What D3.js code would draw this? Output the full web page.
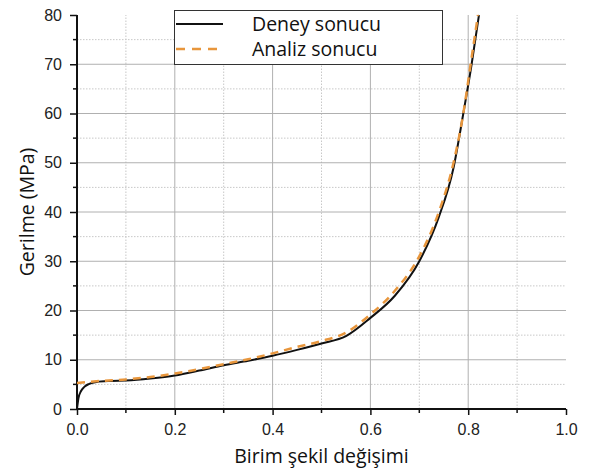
<!DOCTYPE html>
<html>
<head>
<meta charset="utf-8">
<script src="https://cdn.jsdelivr.net/npm/d3@7"></script>
<style>
  body { margin: 0; background: #fff; }
  .tick text { font-family: "Liberation Sans", Arial, sans-serif; font-size: 16px; fill: #222; }
  .title { font-family: "Open Sans", sans-serif; font-size: 19.5px; fill: #111; }
</style>
</head>
<body>
<div id="chart"></div>
<script>
// Deney (experiment) curve
const deneyStrain = [0, 0.003, 0.008, 0.015, 0.025, 0.04, 0.07, 0.1, 0.15, 0.2, 0.25, 0.3, 0.35, 0.4, 0.45, 0.5, 0.55, 0.6, 0.65, 0.7, 0.74, 0.77, 0.79, 0.807, 0.822];
const deneyStress = [0, 2.2, 3.6, 4.5, 5.1, 5.5, 5.7, 5.8, 6.2, 6.8, 7.8, 8.9, 9.8, 10.8, 12.0, 13.3, 14.8, 18.5, 23, 30, 39, 49, 60, 70, 80];

// Analiz (analysis) curve
const analizStrain = [0, 0.05, 0.1, 0.15, 0.2, 0.25, 0.3, 0.35, 0.4, 0.45, 0.5, 0.55, 0.6, 0.65, 0.7, 0.74, 0.77, 0.79, 0.805, 0.82];
const analizStress = [5.3, 5.7, 6.0, 6.5, 7.2, 8.1, 9.1, 10.1, 11.3, 12.6, 13.8, 15.5, 19.2, 24, 31, 40, 50, 60, 70, 80];

const xTicks = [0, 0.2, 0.4, 0.6, 0.8, 1.0];
const yTicks = [0, 10, 20, 30, 40, 50, 60, 70, 80];
const legendLabels = ['Deney sonucu', 'Analiz sonucu'];

const width = 589, height = 470;
const margin = { top: 15, right: 23, bottom: 61, left: 77 };

const svg = d3.select('#chart').append('svg')
  .attr('width', width)
  .attr('height', height);

const x = d3.scaleLinear().domain([0, 1]).range([margin.left, width - margin.right]);
const y = d3.scaleLinear().domain([0, 80]).range([height - margin.bottom, margin.top]);

// minor grid (dotted)
const xMinor = d3.range(0.1, 1, 0.2);
const yMinor = d3.range(5, 80, 10);
svg.append('g').selectAll('line')
  .data(xMinor).enter().append('line')
  .attr('x1', d => x(d)).attr('x2', d => x(d))
  .attr('y1', y(0)).attr('y2', y(80))
  .attr('stroke', '#c8c8c8').attr('stroke-width', 1).attr('stroke-dasharray', '1.5,1.5');
svg.append('g').selectAll('line')
  .data(yMinor).enter().append('line')
  .attr('x1', x(0)).attr('x2', x(1))
  .attr('y1', d => y(d)).attr('y2', d => y(d))
  .attr('stroke', '#c8c8c8').attr('stroke-width', 1).attr('stroke-dasharray', '1.5,1.5');

// major grid
svg.append('g').selectAll('line')
  .data(xTicks.slice(1, -1)).enter().append('line')
  .attr('x1', d => x(d)).attr('x2', d => x(d))
  .attr('y1', y(0)).attr('y2', y(80))
  .attr('stroke', '#b0b0b0').attr('stroke-width', 1);
svg.append('g').selectAll('line')
  .data(yTicks.slice(1, -1)).enter().append('line')
  .attr('x1', x(0)).attr('x2', x(1))
  .attr('y1', d => y(d)).attr('y2', d => y(d))
  .attr('stroke', '#b0b0b0').attr('stroke-width', 1);

// axes
const xAxis = svg.append('g')
  .attr('transform', `translate(0,${y(0)})`)
  .call(d3.axisBottom(x).tickValues(xTicks).tickFormat(d3.format('.1f')).tickSize(6).tickPadding(9));
const yAxis = svg.append('g')
  .attr('transform', `translate(${x(0)},0)`)
  .call(d3.axisLeft(y).tickValues(yTicks).tickSize(7).tickPadding(8));

[xAxis, yAxis].forEach(a => {
  a.select('.domain').attr('stroke', '#111').attr('stroke-width', 2);
  a.selectAll('.tick line').attr('stroke', '#111').attr('stroke-width', 1.5);
});
xAxis.select('.domain').attr('d', `M${x(0)},0H${x(1)}`);
yAxis.select('.domain').attr('d', `M0,${y(0)}V${y(80)}`);

// minor ticks
svg.append('g').selectAll('line')
  .data(xMinor).enter().append('line')
  .attr('x1', d => x(d)).attr('x2', d => x(d))
  .attr('y1', y(0)).attr('y2', y(0) + 4)
  .attr('stroke', '#111').attr('stroke-width', 1.5);
svg.append('g').selectAll('line')
  .data(yMinor).enter().append('line')
  .attr('x1', x(0) - 4).attr('x2', x(0))
  .attr('y1', d => y(d)).attr('y2', d => y(d))
  .attr('stroke', '#111').attr('stroke-width', 1.5);

// curves
const line = d3.line().x(d => x(d[0])).y(d => y(d[1])).curve(d3.curveMonotoneX);
const deney = d3.zip(deneyStrain, deneyStress);
const analiz = d3.zip(analizStrain, analizStress);

svg.append('path')
  .datum(deney)
  .attr('d', line)
  .attr('fill', 'none')
  .attr('stroke', '#111')
  .attr('stroke-width', 2);

svg.append('path')
  .datum(analiz)
  .attr('d', line)
  .attr('fill', 'none')
  .attr('stroke', '#e8963c')
  .attr('stroke-width', 2.5)
  .attr('stroke-dasharray', '8,6');

// axis titles
svg.append('text')
  .attr('class', 'title')
  .attr('x', (x(0) + x(1)) / 2)
  .attr('y', 463)
  .attr('text-anchor', 'middle')
  .text('Birim şekil değişimi');

svg.append('text')
  .attr('class', 'title')
  .attr('transform', `translate(34,${(y(0) + y(80)) / 2}) rotate(-90)`)
  .attr('text-anchor', 'middle')
  .text('Gerilme (MPa)');

// legend
const legend = svg.append('g');
legend.append('rect')
  .attr('x', 174.5).attr('y', 10.5)
  .attr('width', 268).attr('height', 54)
  .attr('fill', '#fff').attr('stroke', '#333').attr('stroke-width', 1);

const legendStyles = [
  { stroke: '#111', width: 2, dash: null },
  { stroke: '#e8963c', width: 2.5, dash: '9,7' }
];
legendLabels.forEach((label, i) => {
  const ly = 24 + i * 25;
  legend.append('line')
    .attr('x1', 176).attr('x2', 223)
    .attr('y1', ly).attr('y2', ly)
    .attr('stroke', legendStyles[i].stroke)
    .attr('stroke-width', legendStyles[i].width)
    .attr('stroke-dasharray', legendStyles[i].dash);
  legend.append('text')
    .attr('class', 'title')
    .attr('x', 252).attr('y', ly + 7)
    .text(label);
});
</script>
</body>
</html>
